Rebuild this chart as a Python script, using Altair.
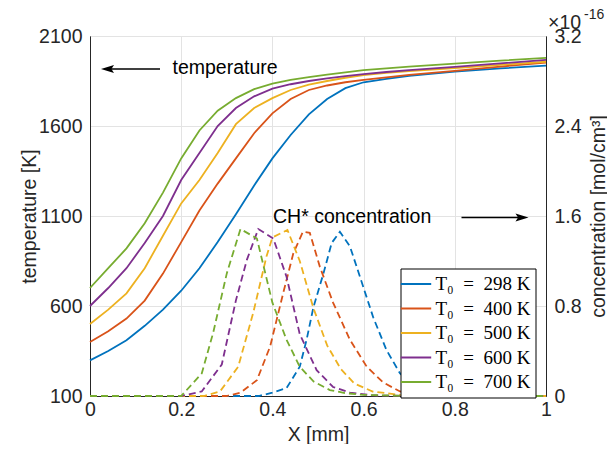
import altair as alt
import pandas as pd

# ---------------- data ----------------
series_labels = ["T₀\u2002=\u2002298 K", "T₀\u2002=\u2002400 K", "T₀\u2002=\u2002500 K",
                 "T₀\u2002=\u2002600 K", "T₀\u2002=\u2002700 K"]
series_colors = ["#0072BD", "#D95319", "#EDB120", "#7E2F8E", "#77AC30"]

x_ticks = [0, 0.2, 0.4, 0.6, 0.8, 1.0]
temp_ticks = [100, 600, 1100, 1600, 2100]
conc_ticks = [0, 0.8, 1.6, 2.4, 3.2]

# temperature profiles [K]
temp_x = [0, 0.04, 0.08, 0.12, 0.16, 0.2, 0.24, 0.28, 0.32, 0.36, 0.40,
          0.44, 0.48, 0.52, 0.56, 0.60, 0.65, 0.70, 0.80, 0.90, 1.0]
temp_298 = [298, 350, 410, 490, 580, 685, 810, 955, 1110, 1270, 1420,
            1550, 1665, 1750, 1810, 1843, 1862, 1878, 1902, 1920, 1935]
temp_400 = [400, 460, 530, 630, 780, 955, 1130, 1280, 1420, 1560, 1670,
            1750, 1800, 1825, 1843, 1856, 1870, 1884, 1906, 1930, 1952]
temp_500 = [500, 580, 670, 810, 990, 1170, 1300, 1450, 1610, 1700, 1755,
            1800, 1830, 1850, 1868, 1883, 1895, 1905, 1922, 1940, 1957]
temp_600 = [600, 700, 810, 950, 1100, 1300, 1450, 1600, 1700, 1765, 1808,
            1832, 1850, 1865, 1877, 1888, 1900, 1910, 1928, 1948, 1967]
temp_700 = [700, 810, 920, 1060, 1230, 1420, 1575, 1685, 1755, 1805, 1836,
            1856, 1872, 1885, 1898, 1910, 1920, 1930, 1946, 1963, 1979]

# CH* concentration profiles [1e-16 mol/cm^3]
conc_x_298 = [0, 0.37, 0.40, 0.431, 0.46, 0.475, 0.49, 0.512, 0.53, 0.548, 0.57,
              0.592, 0.621, 0.65, 0.68, 0.716, 0.753, 0.80, 1.0]
conc_298 = [0, 0, 0.03, 0.07, 0.26, 0.50, 0.79, 1.09, 1.36, 1.46, 1.33,
            1.06, 0.70, 0.41, 0.20, 0.07, 0.02, 0, 0]
conc_x_400 = [0, 0.30, 0.33, 0.366, 0.395, 0.424, 0.446, 0.467, 0.482, 0.504,
              0.533, 0.57, 0.607, 0.643, 0.68, 0.72, 0.80, 1.0]
conc_400 = [0, 0, 0.03, 0.14, 0.44, 0.92, 1.27, 1.46, 1.45, 1.15,
            0.83, 0.50, 0.26, 0.12, 0.04, 0.01, 0, 0]
conc_x_500 = [0, 0.25, 0.285, 0.325, 0.358, 0.387, 0.40, 0.433, 0.46, 0.49,
              0.52, 0.55, 0.58, 0.62, 0.68, 0.75, 1.0]
conc_500 = [0, 0, 0.04, 0.26, 0.74, 1.24, 1.41, 1.476, 1.20, 0.78,
            0.45, 0.24, 0.11, 0.04, 0.01, 0, 0]
conc_x_600 = [0, 0.20, 0.245, 0.289, 0.32, 0.344, 0.369, 0.402, 0.431, 0.46,
              0.497, 0.533, 0.57, 0.62, 0.70, 1.0]
conc_600 = [0, 0, 0.04, 0.28, 0.85, 1.21, 1.484, 1.40, 1.06, 0.55,
            0.23, 0.08, 0.03, 0.005, 0, 0]
conc_x_700 = [0, 0.20, 0.245, 0.27, 0.30, 0.33, 0.366, 0.40, 0.431, 0.46,
              0.49, 0.526, 0.56, 0.60, 0.70, 1.0]
conc_700 = [0, 0, 0.20, 0.56, 1.09, 1.484, 1.40, 0.83, 0.50, 0.26,
            0.13, 0.053, 0.025, 0.01, 0, 0]

# ---------------- tables ----------------
temp_series = [temp_298, temp_400, temp_500, temp_600, temp_700]
conc_series = [(conc_x_298, conc_298), (conc_x_400, conc_400), (conc_x_500, conc_500),
               (conc_x_600, conc_600), (conc_x_700, conc_700)]

temp_rows = []
for lab, vals in zip(series_labels, temp_series):
    for xv, tv in zip(temp_x, vals):
        temp_rows.append({"x": xv, "T": tv, "series": lab})
df_temp = pd.DataFrame(temp_rows)

conc_rows = []
for lab, (xs, cs) in zip(series_labels, conc_series):
    for xv, cv in zip(xs, cs):
        conc_rows.append({"x": xv, "C": cv, "series": lab})
df_conc = pd.DataFrame(conc_rows)

FONT = "Liberation Sans"
FS = 19.5
W, H = 456, 360

color_scale = alt.Scale(domain=series_labels, range=series_colors)
x_enc = alt.X("x:Q", scale=alt.Scale(domain=[0, 1], nice=False),
              axis=alt.Axis(values=x_ticks, format="~g", title="X [mm]",
                            grid=True, labelPadding=4, titlePadding=7,
                            labelFlush=False))

temp = alt.Chart(df_temp).mark_line(strokeWidth=1.8).encode(
    x=x_enc,
    y=alt.Y("T:Q", scale=alt.Scale(domain=[100, 2100], nice=False, zero=False),
            axis=alt.Axis(orient="left", values=temp_ticks, format="d",
                          title="temperature [K]", labelFlush=False,
                          grid=True, labelPadding=8, titleAngle=270,
                          titleX=-55, titleY=H / 2, titleBaseline="alphabetic",
                          titleAlign="center")),
    color=alt.Color("series:N", scale=color_scale, sort=series_labels,
                    legend=alt.Legend(title=None, orient="none", legendX=310.5, legendY=232.5,
                                      fillColor="white", strokeColor="black",
                                      padding=5, labelFont="Liberation Serif",
                                      labelFontSize=19, labelColor="black",
                                      symbolType="M-1.6,0L1.6,0", symbolSize=361,
                                      symbolStrokeWidth=2, rowPadding=3.5,
                                      labelOffset=9, labelLimit=200)),
)

conc = alt.Chart(df_conc).mark_line(strokeWidth=1.8, strokeDash=[7, 4]).encode(
    x=x_enc,
    y=alt.Y("C:Q", scale=alt.Scale(domain=[0, 3.2], nice=False, zero=False),
            axis=alt.Axis(orient="right", values=conc_ticks, format="~g",
                          title="concentration [mol/cm³]", grid=False, labelPadding=8,
                          labelFlush=False,
                          titleAngle=270, titleX=58, titleY=H / 2,
                          titleBaseline="alphabetic", titleAlign="center")),
    color=alt.Color("series:N", scale=color_scale, sort=series_labels, legend=None),
)

one = pd.DataFrame({"a": [0]})
base = alt.Chart(one)

txt_temp = base.mark_text(text="temperature", align="left", baseline="alphabetic",
                          font=FONT, fontSize=FS, color="black").encode(
    x=alt.value(82.5), y=alt.value(37.5))
arr1_line = base.mark_rule(color="black", strokeWidth=1.6).encode(
    x=alt.value(16), x2=alt.value(70), y=alt.value(33))
arr1_head = base.mark_point(shape="M-1,0L1,-0.6L0.6,0L1,0.6Z", filled=True, color="black",
                            opacity=1, size=170).encode(x=alt.value(17.5), y=alt.value(33))

txt_conc = base.mark_text(text="CH* concentration", align="left", baseline="alphabetic",
                          font=FONT, fontSize=FS, color="black").encode(
    x=alt.value(183), y=alt.value(186.5))
arr2_line = base.mark_rule(color="black", strokeWidth=1.6).encode(
    x=alt.value(371.5), x2=alt.value(432), y=alt.value(181.5))
arr2_head = base.mark_point(shape="M1,0L-1,-0.6L-0.6,0L-1,0.6Z", filled=True, color="black",
                            opacity=1, size=170).encode(x=alt.value(432), y=alt.value(181.5))

exp_base = base.mark_text(text="×10", align="left", baseline="alphabetic",
                          font=FONT, fontSize=FS, color="#262626").encode(
    x=alt.value(458), y=alt.value(-7.5))
exp_pow = base.mark_text(text="-16", align="left", baseline="alphabetic",
                         font=FONT, fontSize=14, color="#262626").encode(
    x=alt.value(494), y=alt.value(-17.5))

chart = alt.layer(
    temp, conc, txt_temp, arr1_line, arr1_head, txt_conc, arr2_line, arr2_head,
    exp_base, exp_pow
).resolve_scale(
    y="independent"
).properties(
    width=W, height=H,
    autosize=alt.AutoSizeParams(type="none"),
    padding={"left": 82, "top": 28, "right": 61, "bottom": 48},
).configure_view(
    stroke="black", strokeWidth=1
).configure_axis(
    labelFont=FONT, labelFontSize=FS, labelColor="#262626",
    titleFont=FONT, titleFontSize=FS, titleColor="#262626", titleFontWeight="normal",
    domainColor="#262626", domainWidth=1, ticks=False,
    gridColor="#e3e3e3", gridWidth=1,
)

chart.save("out.html", embed_options={"renderer": "svg", "actions": False})
